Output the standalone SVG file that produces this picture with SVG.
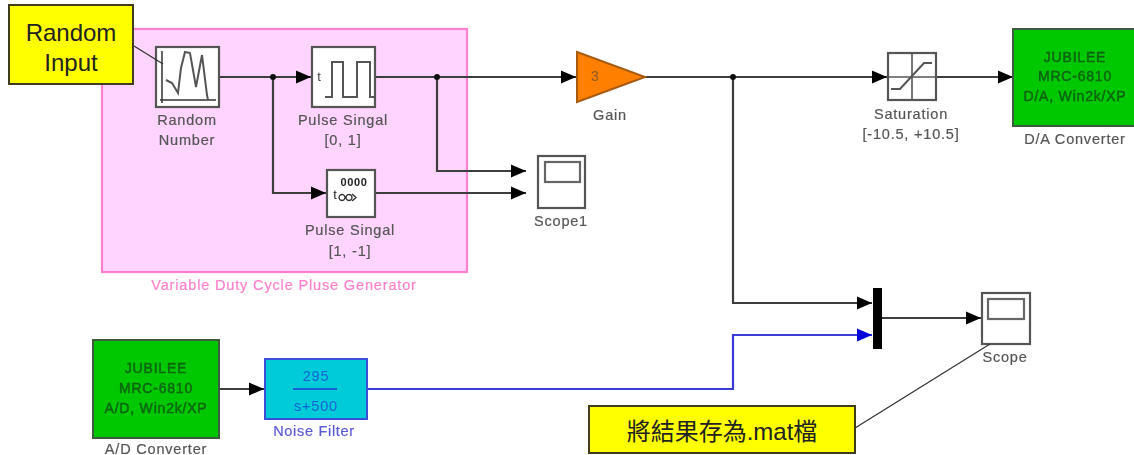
<svg xmlns="http://www.w3.org/2000/svg" width="1134" height="455" viewBox="0 0 1134 455">
<style>
text{font-family:"Liberation Sans","Noto Sans CJK TC",sans-serif;text-anchor:middle}
.lb{font-size:14.5px;letter-spacing:.8px;fill:#555;stroke:#555;stroke-width:.2}
.jb{font-size:14px;letter-spacing:.8px;fill:#0a6610;stroke:#0a6610;stroke-width:.5}
.blk{fill:#fff;stroke:#555;stroke-width:2.2}
.ic{fill:none;stroke:#555;stroke-width:2}
.w{fill:none;stroke:#3c3c3c;stroke-width:2.2}
.wb{fill:none;stroke:#3a3ad8;stroke-width:2.2}
.call{fill:#ffff00;stroke:#403c20;stroke-width:2}
.ct{font-size:24px;fill:#222}
.ln{fill:none;stroke:#333;stroke-width:1.3}
.gr{fill:#00c800;stroke:#3c5a3c;stroke-width:2}
</style>
<defs>
<filter id="s" x="-5%" y="-5%" width="110%" height="110%"><feGaussianBlur stdDeviation=".6"/></filter>
<marker id="a" markerUnits="userSpaceOnUse" markerWidth="16" markerHeight="14" refX="15" refY="7" orient="auto"><path d="M0,0.500L15,7L0,13.500z" fill="#000"/></marker>
<marker id="ab" markerUnits="userSpaceOnUse" markerWidth="16" markerHeight="14" refX="15" refY="7" orient="auto"><path d="M0,0.500L15,7L0,13.500z" fill="#0000d8"/></marker>
</defs>
<rect width="1134" height="455" fill="#fff"/>
<g id="subsystem" filter="url(#s)">
<rect x="102" y="29" width="365" height="243" fill="#ffd4ff" stroke="#ff80d0" stroke-width="2.200"/>
<text x="284" y="290" font-size="14.500" letter-spacing=".85" fill="#ff80cc" stroke="#ff80cc" stroke-width=".2">Variable Duty Cycle Pluse Generator</text>
</g>
<g id="connectors" filter="url(#s)">
<path class="w" d="M220,77H311" marker-end="url(#a)"/>
<path class="w" d="M273,77V193H326" marker-end="url(#a)"/>
<path class="w" d="M375,77H576" marker-end="url(#a)"/>
<path class="w" d="M437,77V171H526" marker-end="url(#a)"/>
<path class="w" d="M375,193H526" marker-end="url(#a)"/>
<path class="w" d="M645,77H887" marker-end="url(#a)"/>
<path class="w" d="M936,77H1013" marker-end="url(#a)"/>
<path class="w" d="M733,77V303H872" marker-end="url(#a)"/>
<path class="w" d="M219,389H264" marker-end="url(#a)"/>
<path class="wb" d="M367,389H733V335H872" marker-end="url(#ab)"/>
<path class="w" d="M882,318H981" marker-end="url(#a)"/>
<circle cx="273" cy="77" r="3" fill="#111"/>
<circle cx="437" cy="77" r="3" fill="#111"/>
<circle cx="733" cy="77" r="3" fill="#111"/>
</g>
<g id="random-number" filter="url(#s)">
<rect class="blk" x="156" y="47" width="63" height="60"/>
<path d="M162,51V103M160,100H216" fill="none" stroke="#333" stroke-width="1.500"/>
<path class="ic" d="M166,80L172,83L178,93L181,68L185,52L190,53L196,87L202,55L207,95L208,100"/>
<text class="lb" x="187" y="125">Random</text>
<text class="lb" x="187" y="145">Number</text>
</g>
<g id="pulse-0-1" filter="url(#s)">
<rect class="blk" x="312" y="47" width="63" height="60"/>
<path class="ic" d="M325,97H332V62H343V97H357V62H370V97H375"/>
<text x="319" y="81" font-size="13" fill="#444">t</text>
<text class="lb" x="343" y="125">Pulse Singal</text>
<text class="lb" x="343" y="145">[0, 1]</text>
</g>
<g id="pulse-1-m1" filter="url(#s)">
<rect class="blk" x="327" y="170" width="48" height="47"/>
<text x="354" y="186" font-size="11" font-weight="bold" letter-spacing=".6" fill="#222">0000</text>
<text x="335" y="199" font-size="13" fill="#222">t</text>
<path d="M342,194.500a3,3 0 1 0 .01,0M349,194.500a3,3 0 1 0 .01,0M352,194l4,3.500l-4,3.500" fill="none" stroke="#333" stroke-width="1.400"/>
<text class="lb" x="350" y="235">Pulse Singal</text>
<text class="lb" x="350" y="256">[1, -1]</text>
</g>
<g id="scope1" filter="url(#s)">
<rect class="blk" x="538" y="156" width="47" height="52"/>
<rect x="545" y="162" width="35" height="20" fill="none" stroke="#666" stroke-width="2.200"/>
<text class="lb" x="561" y="226">Scope1</text>
</g>
<g id="gain" filter="url(#s)">
<path d="M577,52L645,77L577,102z" fill="#ff8000" stroke="#a85a10" stroke-width="2"/>
<text x="595" y="81" font-size="14" fill="#8a5a20">3</text>
<text class="lb" x="610" y="120">Gain</text>
</g>
<g id="saturation" filter="url(#s)">
<rect class="blk" x="888" y="53" width="48" height="47"/>
<path d="M888,77H936M912,53V100" fill="none" stroke="#555" stroke-width="1.600"/>
<path class="ic" d="M891,89H900L924,63H932"/>
<text class="lb" x="911" y="119">Saturation</text>
<text class="lb" x="911" y="139">[-10.5, +10.5]</text>
</g>
<g id="da-converter" filter="url(#s)">
<rect class="gr" x="1013" y="29" width="125" height="97"/>
<text class="jb" x="1075" y="62">JUBILEE</text>
<text class="jb" x="1075" y="81">MRC-6810</text>
<text class="jb" x="1075" y="101">D/A, Win2k/XP</text>
<text class="lb" x="1075" y="144">D/A  Converter</text>
</g>
<g id="ad-converter" filter="url(#s)">
<rect class="gr" x="93" y="340" width="126" height="98"/>
<text class="jb" x="156" y="373">JUBILEE</text>
<text class="jb" x="156" y="393">MRC-6810</text>
<text class="jb" x="156" y="413">A/D, Win2k/XP</text>
<text class="lb" x="156" y="454">A/D  Converter</text>
</g>
<g id="noise-filter" filter="url(#s)">
<rect x="265" y="359" width="102" height="60" fill="#00cbd8" stroke="#3a50d8" stroke-width="2"/>
<text x="316" y="381" font-size="14.500" letter-spacing=".8" fill="#1464d8">295</text>
<path d="M293,389H337" stroke="#1464d8" stroke-width="2"/>
<text x="316" y="411" font-size="14.500" letter-spacing=".8" fill="#1464d8">s+500</text>
<text x="314" y="436" font-size="14.500" letter-spacing=".7" fill="#5a5ad8" stroke="#5a5ad8" stroke-width=".2">Noise Filter</text>
</g>
<g id="mux" filter="url(#s)">
<rect x="873" y="288" width="9" height="61" fill="#000"/>
</g>
<g id="scope" filter="url(#s)">
<rect class="blk" x="982" y="293" width="48" height="51"/>
<rect x="988" y="299" width="36" height="20" fill="none" stroke="#666" stroke-width="2.200"/>
<text class="lb" x="1005" y="362">Scope</text>
</g>
<g id="callout-random">
<path class="ln" d="M134,46L163,64"/>
<rect class="call" x="9" y="5" width="124" height="79"/>
<text class="ct" x="71" y="41">Random</text>
<text class="ct" x="71" y="71">Input</text>
</g>
<g id="callout-mat">
<path class="ln" d="M855,428L990,344"/>
<rect class="call" x="589" y="406" width="266" height="47"/>
<text class="ct" x="722" y="440">將結果存為.mat檔</text>
</g>
</svg>
